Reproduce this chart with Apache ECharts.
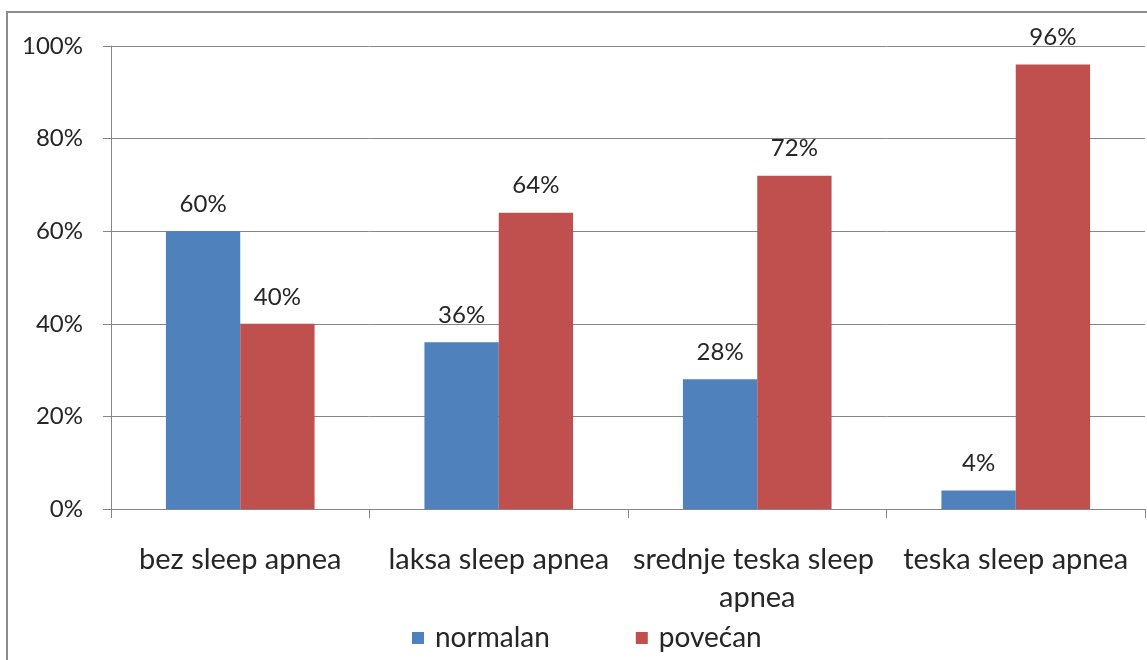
<!DOCTYPE html>
<html>
<head>
<meta charset="utf-8">
<script src="https://cdn.jsdelivr.net/npm/echarts@6/dist/echarts.min.js"></script>
<style>
  html, body { margin: 0; padding: 0; background: #fff; }
  #chart { width: 1147px; height: 660px; }
</style>
</head>
<body>
<div id="chart"></div>
<script>
// Categories and series values (percent)
const categories = ['bez sleep apnea', 'laksa sleep apnea', 'srednje teska sleep apnea', 'teska sleep apnea'];
const normalan = [60, 36, 28, 4];
const povecan = [40, 64, 72, 96];
const seriesNames = ['normalan', 'povećan'];
const yTicks = [0, 20, 40, 60, 80, 100];

const FONT = 'Lato, "Open Sans", sans-serif';
const TEXT = '#262626';
const GRID = '#868686';

const chart = echarts.init(document.getElementById('chart'), null, { renderer: 'canvas' });

const valueLabel = {
  show: true,
  position: 'top',
  distance: 15,
  formatter: p => p.value + '%',
  fontFamily: FONT,
  fontSize: 24,
  color: TEXT
};

chart.setOption({
  animation: false,
  backgroundColor: '#fff',
  graphic: [{
    type: 'rect',
    shape: { x: 7, y: 12, width: 1300, height: 800 },
    style: { fill: 'none', stroke: '#8c8c8c', lineWidth: 2 },
    z: 100,
    silent: true
  }],
  legend: {
    data: seriesNames,
    top: 624,
    left: 412,
    padding: 0,
    itemWidth: 12,
    itemHeight: 12,
    itemGap: 86,
    icon: 'rect',
    textStyle: { fontFamily: FONT, fontSize: 28, color: TEXT, padding: [0, 0, 0, 6] }
  },
  grid: { left: 111, right: 2, top: 46, bottom: 151, containLabel: false },
  xAxis: {
    type: 'category',
    data: categories,
    boundaryGap: true,
    axisLine: { show: true, lineStyle: { color: GRID, width: 1 } },
    axisTick: { show: true, length: 9, alignWithLabel: false, lineStyle: { color: GRID } },
    axisLabel: {
      fontFamily: FONT,
      fontSize: 29,
      color: TEXT,
      margin: 32,
      lineHeight: 38,
      width: 255,
      overflow: 'break',
      interval: 0
    }
  },
  yAxis: {
    type: 'value',
    min: yTicks[0],
    max: yTicks[yTicks.length - 1],
    interval: 20,
    axisLine: { show: true, lineStyle: { color: GRID, width: 1 } },
    axisTick: { show: true, length: 8, lineStyle: { color: GRID } },
    splitLine: { show: true, lineStyle: { color: GRID, width: 1 } },
    axisLabel: {
      formatter: v => v + '%',
      fontFamily: FONT,
      fontSize: 24,
      color: TEXT,
      margin: 28
    }
  },
  series: [
    {
      name: seriesNames[0],
      type: 'bar',
      data: normalan,
      barGap: '0%',
      barCategoryGap: '42.5%',
      itemStyle: { color: '#4F81BD' },
      label: valueLabel
    },
    {
      name: seriesNames[1],
      type: 'bar',
      data: povecan,
      barGap: '0%',
      barCategoryGap: '42.5%',
      itemStyle: { color: '#C0504D' },
      label: valueLabel
    }
  ]
});
</script>
</body>
</html>
